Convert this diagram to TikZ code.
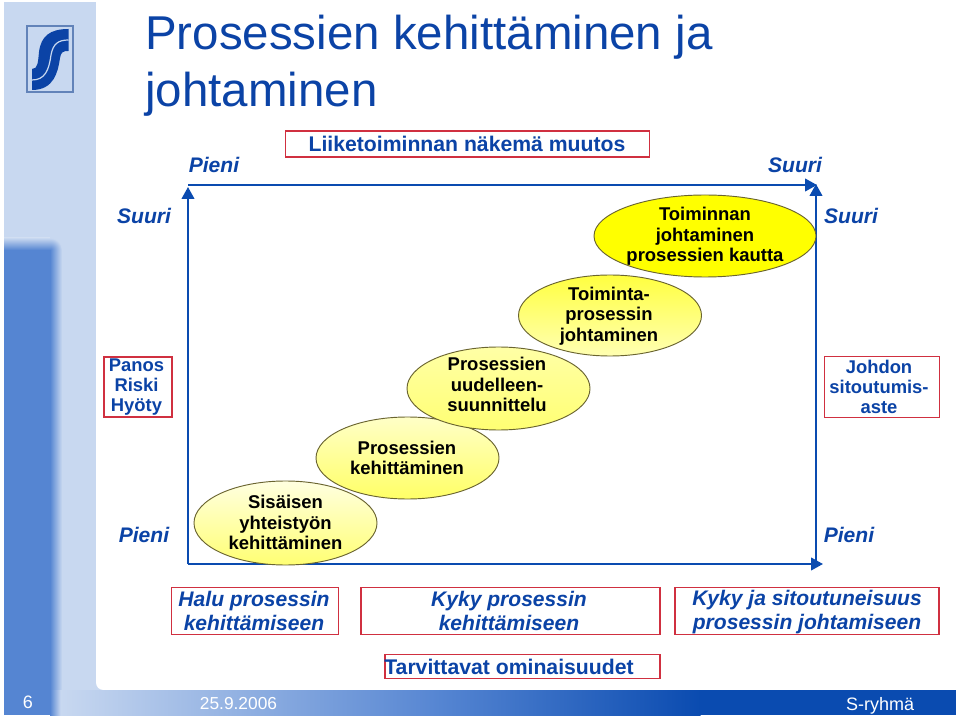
\documentclass[tikz,border=0pt]{standalone}
\usepackage{fontspec}
\setmainfont{Liberation Sans}
\usetikzlibrary{shadings,arrows.meta}
\definecolor{tblue}{HTML}{0B43A6}
\definecolor{axblue}{HTML}{0A4BB0}
\definecolor{pale}{HTML}{C8D8F0}
\definecolor{mid}{HTML}{5585D2}
\definecolor{rbox}{HTML}{D03040}
\definecolor{ybright}{HTML}{FFFF00}
\definecolor{edge}{HTML}{6A6430}
\newcommand{\fs}[1]{\fontsize{#1}{#1}\selectfont}
\tikzset{
 x=0.75pt,y=-0.75pt,
 redbox/.style={draw=rbox,line width=0.9pt,fill=white},
 boxtxt/.style={text=tblue,align=center,font=\fs{15.9}\bfseries,inner sep=0pt},
 itxt/.style={text=tblue,align=center,font=\fs{15.8}\bfseries\itshape,inner sep=0pt},
 etxt/.style={text=black,align=center,font=\fs{13.85}\bfseries,inner sep=0pt},
 stxt/.style={text=tblue,align=center,font=\fs{13.8}\bfseries,inner sep=0pt},
 ell/.style={draw=edge,line width=0.7pt},
 axis/.style={draw=axblue,line width=1.5pt,-{Triangle[length=9pt,width=9.5pt]}},
 foot/.style={text=white,font=\fs{13.5},inner sep=0pt,anchor=base},
}
\begin{document}
\begin{tikzpicture}
\useasboundingbox (0,0) rectangle (960,716);
\fill[white] (0,0) rectangle (960,716);
\fill[pale] (4,2) rectangle (956,715);
\fill[white] (96,0) -- (96,682) .. controls (96,687) and (99,690) .. (104,690) -- (956,690) -- (956,0) -- cycle;
% blue column
\shade[left color=mid,right color=pale] (50,250) rectangle (62,690);
\shade[top color=pale,bottom color=mid] (4,238) rectangle (50,250);
\begin{scope}
\clip (50,238) rectangle (62,250);
\shade[inner color=mid,outer color=pale] (50,250) circle (12);
\end{scope}
\fill[mid] (4,250) rectangle (50,690);
% bottom bar
\shade[left color=pale,right color=mid] (60,690) rectangle (440.5,715);
\shade[left color=mid,right color=axblue] (440,690) rectangle (700.5,715);
\fill[axblue] (700,690) rectangle (956,715);
\shade[left color=mid,right color=pale] (50,690) rectangle (60.5,715);
\fill[mid] (4,690) rectangle (50.5,715);
% logo
\draw[draw=mid!70!gray,line width=0.8pt,fill=pale] (27,26) rectangle (73,92);
\fill[tblue] (68.5,29) -- (68.5,51) .. controls (63,51) and (61,52) .. (60,58) .. controls (58,72) and (54,90) .. (32,90) -- (32,69) .. controls (38,69) and (38,62) .. (39,52) .. controls (41,36) and (50,29) .. (68.5,29) -- cycle;
\draw[pale,line width=0.9pt] (68.5,40) .. controls (58,40) and (53,44) .. (51,55) .. controls (49,70) and (45,80) .. (32,80);
% title
\node[anchor=base west,inner sep=0pt,text=tblue,font=\fs{35.6}] (t1) at (145,50) {Prosessien kehittäminen ja};
\node[anchor=base west,inner sep=0pt,text=tblue,font=\fs{35.6}] (t2) at (145,107) {johtaminen};
% header box
\node[redbox,minimum width=364.5pt*0.75,minimum height=26pt*0.75,inner sep=0pt] (hb) at (467.5,144) {};
\node[boxtxt] at (467,144) {Liiketoiminnan näkemä muutos};
\node[itxt] (p1) at (214,165) {Pieni};
\node[itxt] (s1) at (795,165) {Suuri};
\node[itxt] (s2) at (144,216) {Suuri};
\node[itxt] (s3) at (851,216) {Suuri};
\node[itxt] (p2) at (144,535) {Pieni};
\node[itxt] (p3) at (849,535) {Pieni};
% axes
\draw[axis] (188,564) -- (188,187);
\draw[axis] (188,185) -- (817,185);
\draw[axis] (816,564) -- (816,184);
\draw[axis] (188,564) -- (823,564);
% side boxes
\node[redbox,minimum width=68pt*0.75,minimum height=60pt*0.75,inner sep=0pt] (lb) at (138,387) {};
\node[stxt] at (136.5,387) {Panos\\[1.5pt]Riski\\[1.5pt]Hyöty};
\node[redbox,minimum width=115pt*0.75,minimum height=61pt*0.75,inner sep=0pt] (rb) at (882,387) {};
\node[stxt] at (879,387) {Johdon\\[1.5pt]sitoutumis-\\[1.5pt]aste};
% ellipses
\shade[ell,top color=yellow!12!white,bottom color=yellow!55!white] (285.5,523) ellipse (91.5 and 42);
\node[etxt] (e1) at (285.5,522.5) {Sisäisen\\[1.5pt]yhteistyön\\[1.5pt]kehittäminen};
\shade[ell,top color=yellow!22!white,bottom color=yellow!60!white] (407.5,458) ellipse (91.5 and 41);
\node[etxt] (e2) at (407,458) {Prosessien\\[1.5pt]kehittäminen};
\shade[ell,top color=yellow!35!white,bottom color=yellow!55!white] (498.5,388.5) ellipse (91.5 and 41.5);
\node[etxt] (e3) at (497,384.5) {Prosessien\\[1.5pt]uudelleen-\\[1.5pt]suunnittelu};
\shade[ell,top color=yellow!75!white,bottom color=yellow!30!white] (610,315.5) ellipse (91.5 and 40.5);
\node[etxt] (e4) at (609,316) {Toiminta-\\[1.5pt]prosessin\\[1.5pt]johtaminen};
\fill[ybright,draw=edge,line width=0.7pt] (705,236) ellipse (111 and 41);
\node[etxt] (e5) at (705,236.5) {Toiminnan\\[1.5pt]johtaminen\\[1.5pt]prosessien kautta};
% bottom boxes
\node[redbox,minimum width=167pt*0.75,minimum height=47pt*0.75,inner sep=0pt] (b1) at (255,611) {};
\node[itxt] at (254,611) {Halu prosessin\\[2.2pt]kehittämiseen};
\node[redbox,minimum width=299pt*0.75,minimum height=47pt*0.75,inner sep=0pt] (b2) at (510.5,611) {};
\node[itxt] at (509,611) {Kyky prosessin\\[2.2pt]kehittämiseen};
\node[redbox,minimum width=264pt*0.75,minimum height=47pt*0.75,inner sep=0pt] (b3) at (807,611) {};
\node[itxt] at (807,612) {Kyky ja sitoutuneisuus\\[2.2pt]prosessin johtamiseen};
\node[redbox,minimum width=275pt*0.75,minimum height=24pt*0.75,inner sep=0pt] (b4) at (522.5,666.5) {};
\node[boxtxt] at (509,666.5) {Tarvittavat ominaisuudet};
% footer
\node[foot] (f1) at (28,708.5) {6};
\node[foot,font=\fs{13}] (f2) at (238.5,709) {25.9.2006};
\node[foot] (f3) at (880,710) {S-ryhmä};
\end{tikzpicture}
\end{document}
